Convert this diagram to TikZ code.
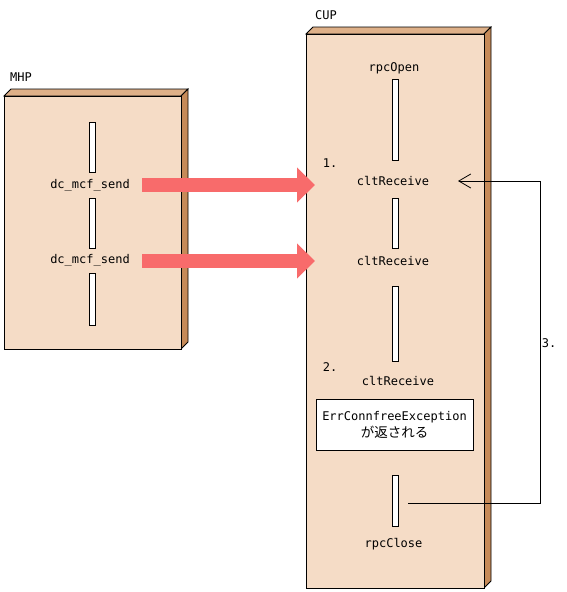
\documentclass[tikz,border=0pt]{standalone}
\usepackage{fontspec}
\setmonofont{DejaVu Sans Mono}
\newfontfamily\jpfont{Noto Sans CJK JP}
\usetikzlibrary{arrows.meta,positioning}

\definecolor{faceC}{RGB}{245,220,198}
\definecolor{topC}{RGB}{222,176,136}
\definecolor{sideC}{RGB}{198,138,88}
\definecolor{sendC}{RGB}{248,107,107}

\tikzset{
  txt/.style={inner sep=0pt,font=\fontsize{12}{14}\selectfont\ttfamily},
  bar/.style={draw,fill=white,line width=.8pt,minimum width=6pt,inner sep=0pt},
  sendarrow/.style={draw=sendC,line width=14pt,-{Triangle[length=18pt,width=34pt,fill=sendC]}},
  face/.style={draw,line width=.8pt,fill=faceC},
}

\begin{document}
\begin{tikzpicture}[x=1pt,y=-1pt]
\useasboundingbox (0,0) rectangle (567,592);
% MHP box
\filldraw[line width=.8pt,fill=topC] (4,96) -- (11,89) -- (188,89) -- (181,96) -- cycle;
\filldraw[line width=.8pt,fill=sideC] (181,96) -- (188,89) -- (188,342) -- (181,349) -- cycle;
\draw[face] (4,96) rectangle (181,349);
\node[txt,anchor=west] (mhp) at (10,77) {MHP};
% CUP box
\filldraw[line width=.8pt,fill=topC] (306,34) -- (313,27) -- (491,27) -- (484,34) -- cycle;
\filldraw[line width=.8pt,fill=sideC] (484,34) -- (491,27) -- (491,581) -- (484,588) -- cycle;
\draw[face] (306,34) rectangle (484,588);
\node[txt,anchor=west] (cup) at (315,15) {CUP};

% MHP side
\node[bar,minimum height=50pt] (mbar1) at (92,147) {};
\node[txt] (send1) at (90,185) {dc\_mcf\_send};
\node[bar,minimum height=50pt] (mbar2) at (92,223) {};
\node[txt] (send2) at (90,260) {dc\_mcf\_send};
\node[bar,minimum height=52pt] (mbar3) at (92,299) {};

% CUP side
\node[txt] (open) at (394,68) {rpcOpen};
\node[bar,minimum height=81pt] (cbar1) at (395,119.5) {};
\node[txt] (one) at (330,163) {1.};
\node[txt] (recv1) at (393,181) {cltReceive};
\node[bar,minimum height=50pt] (cbar2) at (395,223) {};
\node[txt] (recv2) at (393,261) {cltReceive};
\node[bar,minimum height=75pt] (cbar3) at (395,323.5) {};
\node[txt] (two) at (330,367) {2.};
\node[txt] (recv3) at (398,381) {cltReceive};
\node[draw,fill=white,line width=.8pt,minimum width=157pt,minimum height=51pt,inner sep=0pt,
      align=center,font=\fontsize{12}{17}\selectfont\ttfamily] (err) at (394.5,424.5)
      {ErrConnfreeException\\{\jpfont\fontsize{13.5}{15}\selectfont が返される}};
\node[bar,minimum height=51pt] (cbar4) at (395,500.5) {};
\node[txt] (close) at (393.5,544) {rpcClose};
\node[txt] (three) at (549,343) {3.};

% send arrows
\coordinate (s1) at (142,185);
\coordinate (e1) at (315,185);
\coordinate (s2) at (142,261);
\coordinate (e2) at (315,261);
\draw[sendarrow] (s1) -- (e1);
\draw[sendarrow] (s2) -- (e2);

% retry loop
\coordinate (out) at (408,503);
\coordinate (back) at (458,181);
\draw[line width=.8pt,-{Straight Barb[length=12pt,width=14pt]}] (out) -- (540,503) |- (back);
\end{tikzpicture}
\end{document}
